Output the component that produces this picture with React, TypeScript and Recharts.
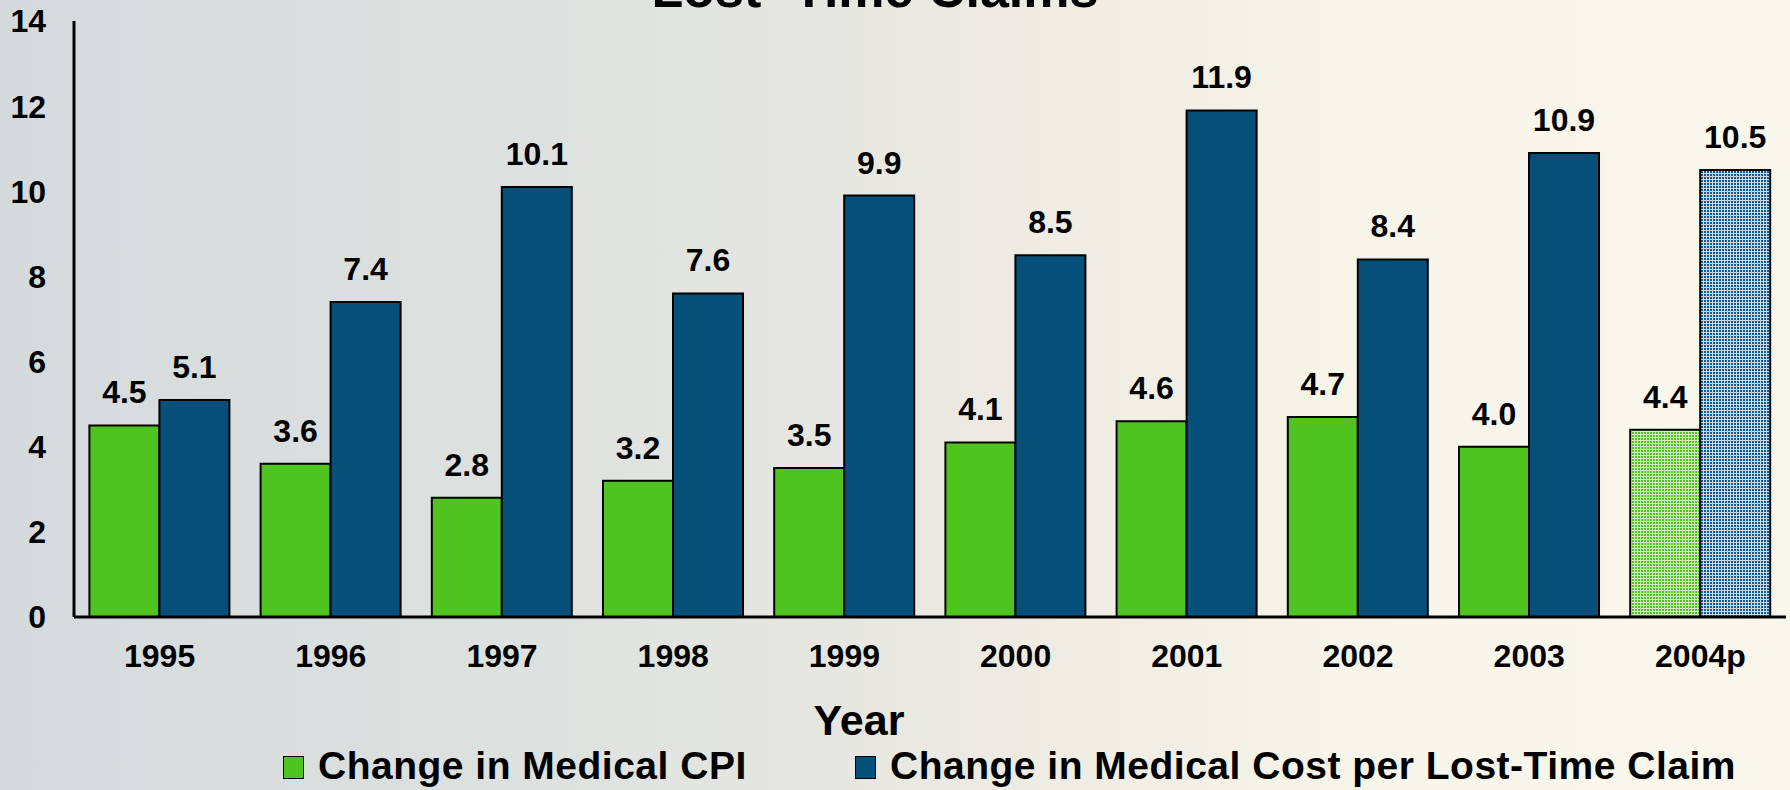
import { BarChart, Bar, XAxis, YAxis, Legend, LabelList, Cell } from 'recharts';

const years = ['1995', '1996', '1997', '1998', '1999', '2000', '2001', '2002', '2003', '2004p'];
const medicalCpi = [4.5, 3.6, 2.8, 3.2, 3.5, 4.1, 4.6, 4.7, 4.0, 4.4];
const costPerClaim = [5.1, 7.4, 10.1, 7.6, 9.9, 8.5, 11.9, 8.4, 10.9, 10.5];
const yTicks = [0, 2, 4, 6, 8, 10, 12, 14];

const data = years.map((year, i) => ({ year, cpi: medicalCpi[i], cost: costPerClaim[i] }));

const FONT = 'Arial, "Liberation Sans", sans-serif';
const GREEN = '#4fc41f';
const BLUE = '#064f78';

const YearLabel = ({ viewBox }: any) => (
  <text
    x={viewBox.x + viewBox.width / 2 - 71}
    y={viewBox.y + 118}
    textAnchor="middle"
    fontFamily={FONT}
    fontWeight="bold"
    fontSize={43}
    fill="#000"
  >
    Year
  </text>
);

const legendLefts = [283, 855];

const ChartLegend = ({ payload }: any) => (
  <div style={{ position: 'relative', height: 42 }}>
    {(payload || []).map((p: any, i: number) => (
      <div key={p.value} style={{ position: 'absolute', left: legendLefts[i], top: 0, display: 'flex' }}>
        <div
          style={{
            width: 19,
            height: 21,
            marginTop: 10,
            background: p.color,
            border: '1.5px solid #000',
          }}
        />
        <span
          style={{
            marginLeft: 14,
            fontFamily: FONT,
            fontWeight: 'bold',
            fontSize: 39,
            lineHeight: '40px',
            letterSpacing: 0.5,
            color: '#000',
            whiteSpace: 'nowrap',
          }}
        >
          {p.value}
        </span>
      </div>
    ))}
  </div>
);

const tickStyle = { fill: '#000', fontSize: 32, fontWeight: 'bold', fontFamily: FONT };

export default function App() {
  return (
    <div
      style={{
        position: 'absolute',
        top: 0,
        left: 0,
        width: 1790,
        height: 790,
        overflow: 'hidden',
        background: 'linear-gradient(90deg, #d5dadd 0%, #dde1df 30%, #eceae2 55%, #f7f4e9 75%, #faf7ec 100%)',
      }}
    >
      <div
        style={{
          position: 'absolute',
          top: -37,
          left: 0,
          width: 1750,
          textAlign: 'center',
          fontFamily: FONT,
          fontWeight: 'bold',
          fontSize: 52,
          lineHeight: '52px',
          color: '#000',
        }}
      >
        Lost -Time Claims
      </div>
      <BarChart
        width={1790}
        height={790}
        data={data}
        margin={{ top: 21, right: 4, bottom: 0, left: 0 }}
        barCategoryGap="9%"
        barGap={0}
      >
        <defs>
          <pattern id="greenGrid" width="3" height="3" patternUnits="userSpaceOnUse">
            <rect width="3" height="3" fill="#d2efc0" />
            <rect width="2" height="2" fill="#52c424" />
          </pattern>
          <pattern id="blueGrid" width="3" height="3" patternUnits="userSpaceOnUse">
            <rect width="3" height="3" fill="#c9dceb" />
            <rect width="2" height="2" fill="#145a8e" />
          </pattern>
        </defs>
        <XAxis
          dataKey="year"
          height={173}
          axisLine={{ stroke: '#000', strokeWidth: 3 }}
          tickLine={false}
          tickSize={0}
          tickMargin={27}
          interval={0}
          tick={tickStyle}
          label={<YearLabel />}
        />
        <YAxis
          domain={[0, 14]}
          ticks={yTicks}
          width={74}
          axisLine={{ stroke: '#000', strokeWidth: 3 }}
          tickLine={false}
          tickSize={0}
          tickMargin={28}
          tick={tickStyle}
        />
        <Legend
          verticalAlign="middle"
          align="center"
          layout="horizontal"
          wrapperStyle={{ top: 746, left: 0, width: 1790 }}
          content={<ChartLegend />}
        />
        <Bar dataKey="cpi" name="Change in Medical CPI" fill={GREEN} stroke="#000" strokeWidth={2} isAnimationActive={false}>
          {data.map((d) => (
            <Cell key={d.year} fill={d.year === '2004p' ? 'url(#greenGrid)' : GREEN} />
          ))}
          <LabelList
            dataKey="cpi"
            position="top"
            offset={22}
            formatter={(v: any) => Number(v).toFixed(1)}
            style={tickStyle}
          />
        </Bar>
        <Bar
          dataKey="cost"
          name="Change in Medical Cost per Lost-Time Claim"
          fill={BLUE}
          stroke="#000"
          strokeWidth={2}
          isAnimationActive={false}
        >
          {data.map((d) => (
            <Cell key={d.year} fill={d.year === '2004p' ? 'url(#blueGrid)' : BLUE} />
          ))}
          <LabelList
            dataKey="cost"
            position="top"
            offset={22}
            formatter={(v: any) => Number(v).toFixed(1)}
            style={tickStyle}
          />
        </Bar>
      </BarChart>
    </div>
  );
}
